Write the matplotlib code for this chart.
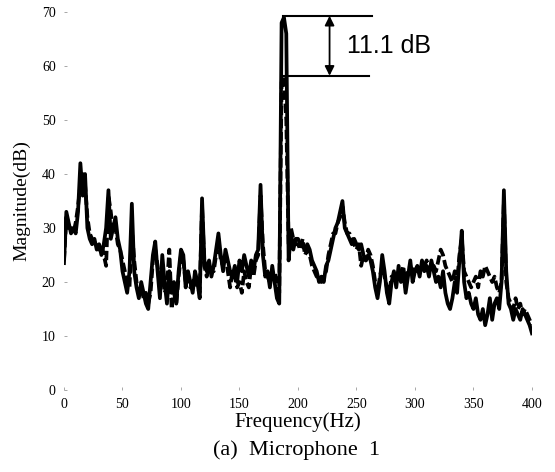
import matplotlib
matplotlib.use("Agg")
import matplotlib.pyplot as plt
import numpy as np

# Frequency grid (Hz) and two measured spectra (dB)
freq = list(range(0, 401, 2))

solid_db = [
    23.5, 33, 31, 29, 30, 29, 33, 42, 36, 40,
    30, 28, 27, 28, 26, 27, 25, 27, 30, 37,
    28, 30, 32, 28, 26, 22, 20, 18, 22, 34.5,
    22, 19, 17, 20, 18, 16, 15, 20, 25, 27.5,
    22, 17, 25, 20, 16, 22, 18, 20, 16, 22,
    26, 25, 19, 22, 20, 18, 22, 20, 17, 35.5,
    24, 22, 24, 21, 23, 26, 29, 25, 22, 26,
    24, 22, 21, 23, 20, 24, 22, 25, 23, 21,
    24, 22, 25, 26, 38, 25, 21, 22, 19, 23,
    20, 17, 16, 68, 69, 66, 24, 29, 26, 28,
    28, 27, 27, 26, 27, 26, 24, 23, 22, 20,
    21, 20, 23, 24, 26, 28, 30, 31, 33, 35,
    30, 29, 28, 27, 28, 27, 26, 27, 25, 24,
    25, 24, 22, 19, 17, 20, 25, 22, 18, 16,
    20, 22, 19, 23, 20, 22, 18, 21, 24, 20,
    22, 23, 21, 24, 22, 23, 21, 24, 22, 20,
    21, 19, 22, 18, 16, 15, 17, 20, 18, 24,
    29.5, 20, 17, 18, 16, 15, 17, 14, 13, 15,
    12, 14, 17, 13, 16, 17, 15, 20, 37, 22,
    16, 15, 13, 15, 14, 13, 15, 14, 13, 12, 10.5,
]

dashed_db = [
    24, 32, 30, 30, 29, 31, 34, 38, 40, 38,
    32, 29, 28, 27, 27, 26, 27, 25, 23, 36,
    33, 29, 30, 27, 26, 24, 22, 20, 19, 30,
    24, 20, 18, 19, 17, 18, 16, 18, 24, 26,
    23, 19, 22, 18, 19, 26, 15, 18, 16, 21,
    25, 24, 20, 21, 19, 20, 21, 19, 18, 34,
    23, 21, 23, 22, 22, 25, 28, 24, 23, 25,
    22, 19, 22, 21, 19, 20, 18, 22, 20, 19,
    23, 21, 24, 25, 36, 27, 22, 21, 20, 22,
    22, 20, 18, 57, 58, 50, 27, 30, 28, 27,
    27, 26, 28, 25, 26, 25, 23, 22, 21, 21,
    20, 21, 22, 25, 27, 29, 29, 31, 32, 34,
    31, 29, 29, 28, 27, 26, 27, 23, 25, 24,
    26, 25, 23, 20, 18, 21, 23, 21, 19, 18,
    21, 21, 20, 22, 21, 23, 19, 22, 23, 21,
    23, 22, 22, 23, 23, 24, 22, 23, 23, 22,
    24, 26, 25, 23, 22, 21, 20, 22, 20, 25,
    28, 22, 21, 20, 19, 20, 21, 19, 22, 21,
    23, 22, 21, 20, 21, 19, 18, 20, 35, 20,
    17, 16, 15, 17, 15, 16, 14, 15, 14, 13, 12,
]

x_ticks = [0, 50, 100, 150, 200, 250, 300, 350, 400]
y_ticks = [0, 10, 20, 30, 40, 50, 60, 70]

# Annotation values
ann_top = 69.3
ann_bottom = 58.2
ann_text = "11.1 dB"

serif = ["Liberation Serif", "DejaVu Serif"]

fig = plt.figure(figsize=(5.55, 4.72), dpi=100)
ax = fig.add_axes([0.1153, 0.1737, 0.8432, 0.8008])

ax.plot(freq, dashed_db, color="black", lw=2.7, linestyle=(0, (2.5, 1)))
ax.plot(freq, solid_db, color="black", lw=2.7)

ax.set_xlim(0, 400)
ax.set_ylim(0, 70)
for s in ax.spines.values():
    s.set_visible(False)
ax.set_xticks(x_ticks)
ax.set_yticks(y_ticks)
ax.tick_params(axis="both", length=2, width=0.6, color="#999999", direction="in",
               labelsize=10, pad=6)
for lab in ax.get_xticklabels() + ax.get_yticklabels():
    lab.set_family(serif)

ax.set_xlabel("Frequency(Hz)", family=serif, fontsize=15, labelpad=1)
ax.set_ylabel("Magnitude(dB)", family=serif, fontsize=14, labelpad=8)
fig.text(0.535, 0.047, "(a)  Microphone  1", family=serif, fontsize=16,
         ha="center", va="center")

# 11.1 dB annotation
ax.plot([187, 263], [ann_top, ann_top], color="black", lw=1.5)
ax.plot([187, 261], [ann_bottom, ann_bottom], color="black", lw=1.5)
ax.annotate("", xy=(227, ann_top), xytext=(227, ann_bottom),
            arrowprops=dict(arrowstyle="<|-|>", color="black", lw=1.3,
                            mutation_scale=14, shrinkA=0, shrinkB=0))
ax.text(242, (ann_top + ann_bottom) / 2, ann_text, family=["Liberation Sans", "DejaVu Sans"],
        fontsize=18, ha="left", va="center")

fig.savefig("out.png", dpi=100)
